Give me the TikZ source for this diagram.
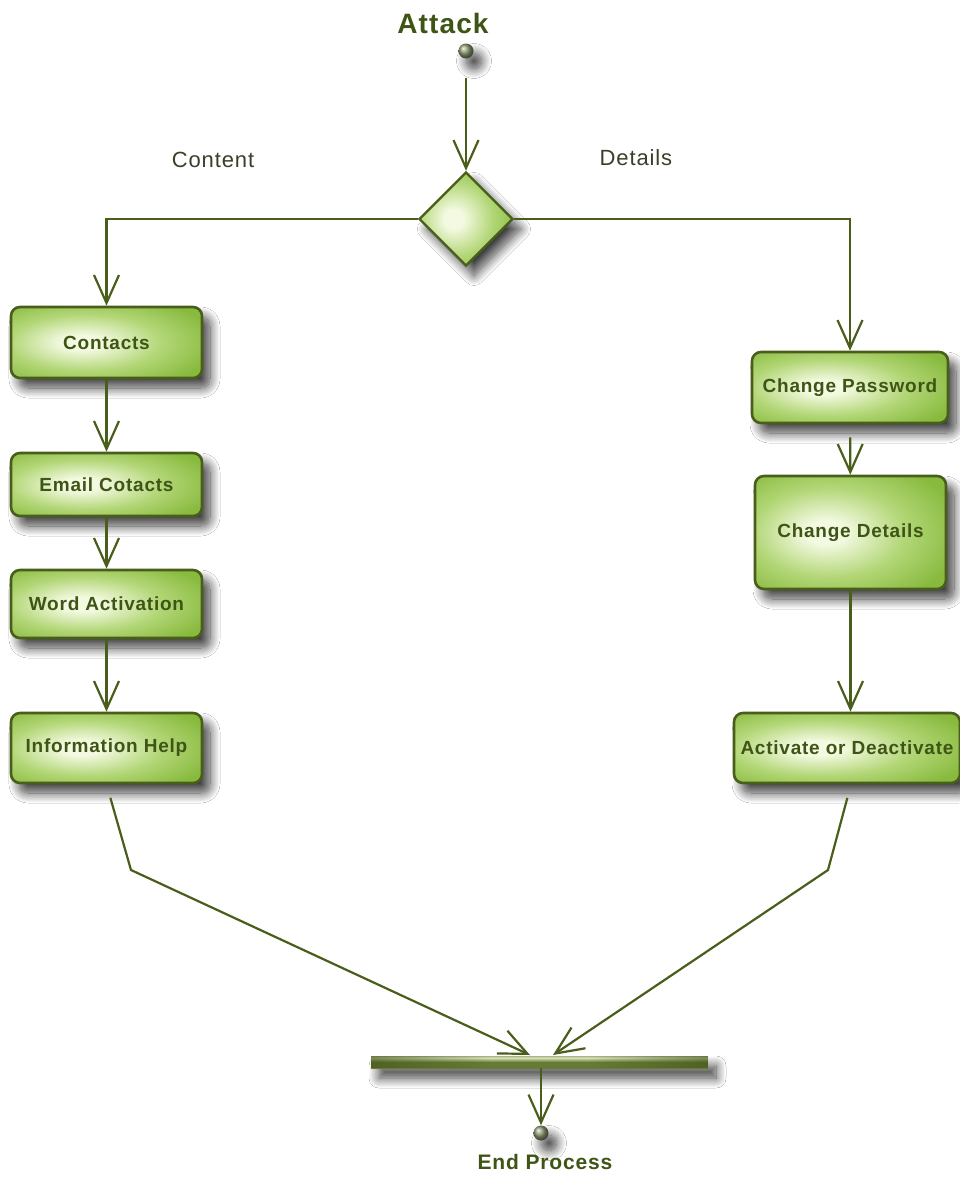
\documentclass[tikz,border=0pt]{standalone}
\usepackage{fontspec}
\usetikzlibrary{arrows.meta,shapes.geometric,shadows.blur,fadings}
\newfontfamily\lblfont{Liberation Sans}[LetterSpace=4]
\definecolor{olive}{HTML}{4A5E1C}
\definecolor{txtgreen}{HTML}{3E5516}
\definecolor{txtgray}{HTML}{3A4028}
\definecolor{fillin}{HTML}{F4FAE2}
\definecolor{fillmid}{HTML}{B2D676}
\definecolor{fillout}{HTML}{88BA3E}
\definecolor{balltone}{HTML}{8E9C72}
\definecolor{bardark}{HTML}{3F5216}
\definecolor{barmid}{HTML}{687B34}
\definecolor{barlight}{HTML}{DCE4C2}
% soft glow, a little left of the middle
\pgfdeclareradialshading{boxglow}{\pgfpoint{-7bp}{0bp}}{
  color(0bp)=(fillin); color(5bp)=(fillin); color(20bp)=(fillmid);
  color(34bp)=(fillout); color(100bp)=(fillout)}
% bar: dark edges, light sheen in the upper half
\pgfdeclareverticalshading{barshade}{100bp}{
  color(0bp)=(bardark); color(25bp)=(barmid); color(50bp)=(barmid);
  color(68bp)=(barlight); color(84bp)=(barmid); color(100bp)=(bardark)}
\tikzset{
  flow/.style={draw=olive,line width=2.2pt,-{Straight Barb[length=28pt,width=25pt,line width=2.2pt]}},
  softshadow/.style={blur shadow={shadow xshift=8pt,shadow yshift=-10pt,shadow blur radius=10pt,
    shadow blur steps=14,shadow opacity=75}},
  actbox/.style={rectangle,rounded corners=9pt,draw=olive,line width=2.6pt,
    shading=boxglow,softshadow,
    font=\lblfont\fontsize{19}{21}\selectfont\bfseries,text=txtgreen,inner sep=2pt},
  decision/.style={diamond,draw=olive,line width=2.4pt,inner sep=0pt,
    minimum width=94pt,minimum height=94pt,shading=boxglow,softshadow},
  endpoint/.style={circle,inner sep=0pt,minimum size=15pt,ball color=balltone,softshadow},
  syncbar/.style={rectangle,inner sep=0pt,minimum width=337pt,minimum height=12pt,
    shading=barshade,softshadow},
  title/.style={font=\lblfont\fontsize{28}{30}\selectfont\bfseries,text=txtgreen},
  guard/.style={font=\lblfont\fontsize{22}{24}\selectfont,text=txtgray}
}
\begin{document}
\begin{tikzpicture}[x=1pt,y=-1pt]
\useasboundingbox (0,0) rectangle (960,1178);
\fill[white] (0,0) rectangle (960,1178);

% start, decision and guards
\node[title] (attack) at (443,23) {Attack};
\node[endpoint] (start) at (466,51) {};
\node[decision] (dec) at (466,219) {};
\node[guard] (content) at (213,160) {Content};
\node[guard] (details) at (636,158) {Details};

% left column of activities
\node[actbox,minimum width=191pt,minimum height=71pt] (contacts) at (106.5,342.5) {Contacts};
\node[actbox,minimum width=191pt,minimum height=63pt] (email) at (106.5,484.5) {Email Cotacts};
\node[actbox,minimum width=191pt,minimum height=68pt] (word) at (106.5,604) {Word Activation};
\node[actbox,minimum width=191pt,minimum height=70pt] (info) at (106.5,748) {Information Help};

% right column of activities
\node[actbox,minimum width=196pt,minimum height=71pt] (cpw) at (850,387.5) {Change Password};
\node[actbox,minimum width=191pt,minimum height=113pt] (cdet) at (850.5,532.5) {Change Details};
\node[actbox,minimum width=226pt,minimum height=70pt] (act) at (847,748) {Activate or Deactivate};

% join bar, darker towards both ends, and the final node
\node[syncbar] (bar) at (539.5,1062) {};
\fill[bardark,opacity=0.6,path fading=east] (bar.north west) rectangle ([xshift=120pt]bar.south west);
\fill[bardark,opacity=0.6,path fading=west] ([xshift=-120pt]bar.north east) rectangle (bar.south east);
\node[endpoint] (endc) at (541,1133) {};
\node[title,font=\lblfont\fontsize{21}{23}\selectfont\bfseries] (endlbl) at (545,1162) {End Process};

\coordinate (bendL) at (131,870);
\coordinate (bendR) at (828,870);
\coordinate (barL) at (530,1055);
\coordinate (barR) at (553,1055);

% control flow
\draw[flow,shorten <=19pt] (start) -- (dec.north);
\draw[flow] (dec.west) -| (contacts.north);
\draw[flow] (dec.east) -| (cpw.north);
\draw[flow] (contacts) -- (email);
\draw[flow] (email) -- (word);
\draw[flow] (word) -- (info);
\draw[flow,shorten <=13pt] (cpw) -- (cdet);
\draw[flow] (cdet.south) -- (cdet.south |- act.north);
\draw[flow,shorten <=14pt] (info.south) -- (bendL) -- (barL);
\draw[flow,shorten <=14pt] ([xshift=4pt]act.south) -- (bendR) -- (barR);
\draw[flow] (endc |- bar.south) -- (endc.north);
\end{tikzpicture}
\end{document}
